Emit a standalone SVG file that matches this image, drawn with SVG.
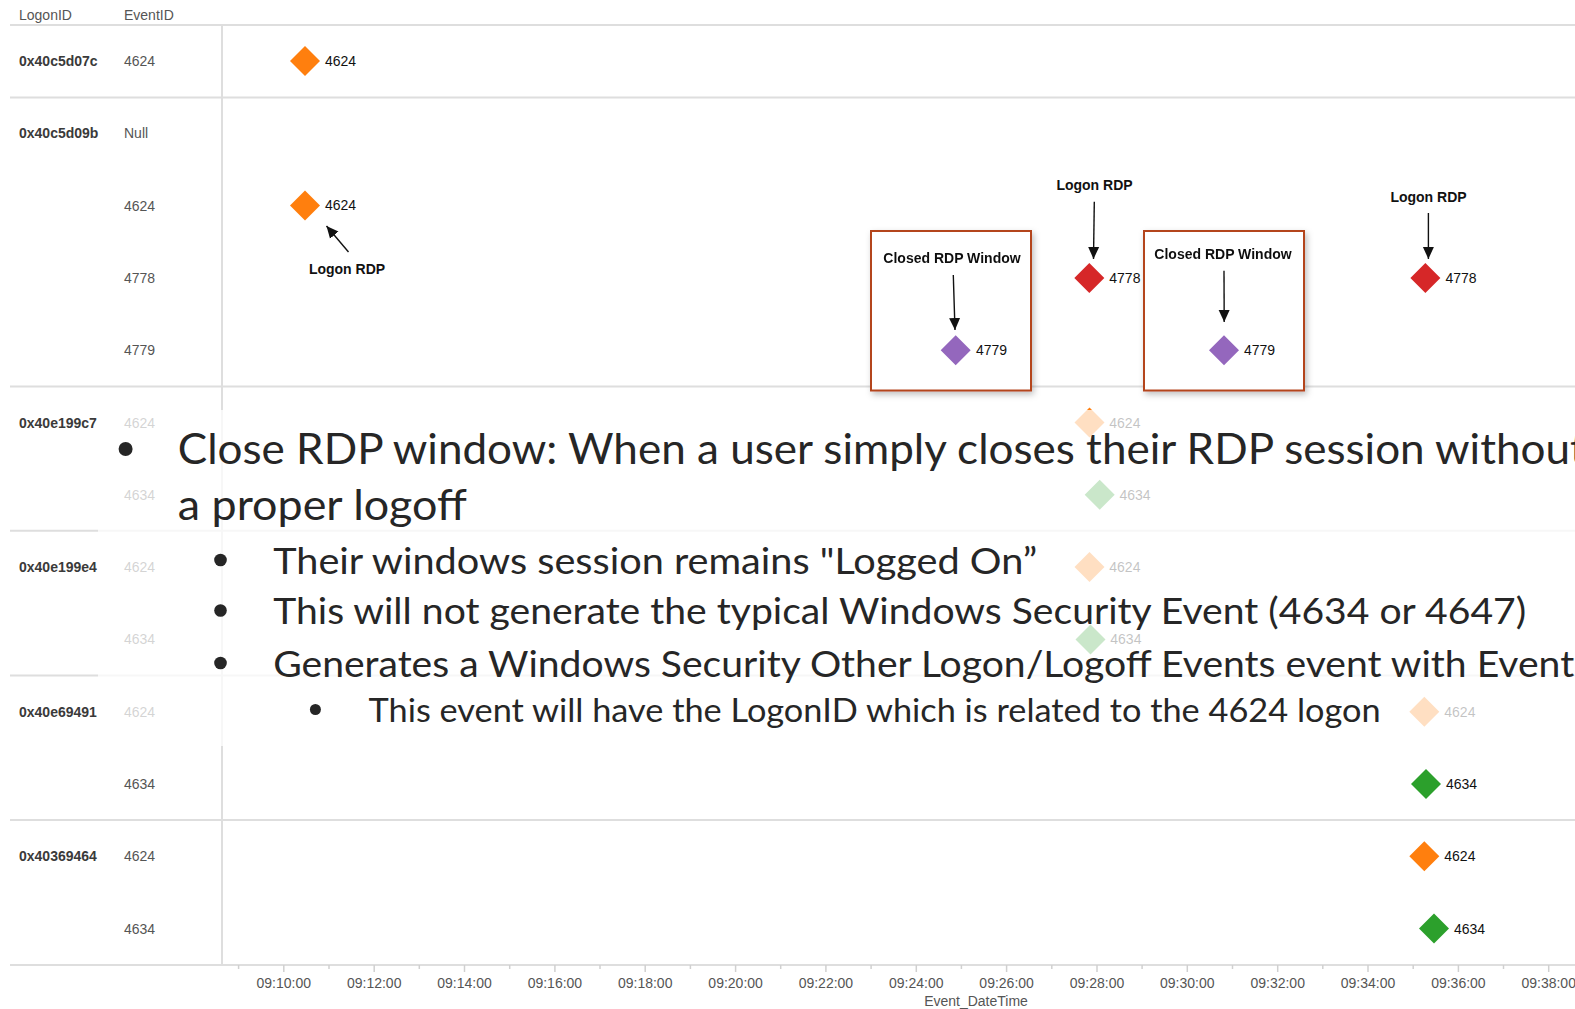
<svg xmlns="http://www.w3.org/2000/svg" xmlns:xlink="http://www.w3.org/1999/xlink" width="1575" height="1009" viewBox="0 0 1575 1009">
<style>
.hdr{font-family:"Liberation Sans",Arial,sans-serif;font-size:14px;fill:#555}
.lid{font-family:"Liberation Sans",Arial,sans-serif;font-size:14px;font-weight:bold;fill:#3a3a3a}
.eid{font-family:"Liberation Sans",Arial,sans-serif;font-size:14px;fill:#555}
.lbl{font-family:"Liberation Sans",Arial,sans-serif;font-size:14px;fill:#111}
.ann{font-family:"Liberation Sans",Arial,sans-serif;font-size:14px;font-weight:bold;fill:#111;text-anchor:middle}
.tick{font-family:"Liberation Sans",Arial,sans-serif;font-size:14px;fill:#555;text-anchor:middle}
.grid{stroke:#dedede;stroke-width:2;fill:none}
.tk{stroke:#d0d0d0;stroke-width:1.5}
.orange{fill:#ff7f0e}.red{fill:#d62728}.purple{fill:#9467bd}.green{fill:#2ca02c}
.box{fill:none;stroke:#b4451f;stroke-width:2}
.arr{stroke:#111;stroke-width:1.4;fill:none;marker-end:url(#ah)}
.slide{font-family:Lato,"Open Sans",sans-serif;fill:#262626}
</style>
<defs>
<path id="dm" d="M0,-15 L15,0 L0,15 L-15,0 Z"/>
<marker id="ah" markerUnits="userSpaceOnUse" markerWidth="12" markerHeight="14" viewBox="0 0 12 14" refX="12" refY="7" orient="auto">
<path d="M0,1.5 L12,7 L0,12.5 Z" fill="#111"/>
</marker>
<filter id="sh" x="-10%" y="-10%" width="125%" height="125%">
<feDropShadow dx="2" dy="3" stdDeviation="3" flood-color="#000" flood-opacity="0.25"/>
</filter>
</defs>
<rect width="1575" height="1009" fill="#fff"/>

<g id="grid">
<line class="grid" x1="10" y1="25" x2="1575" y2="25"/>
<line class="grid" x1="10" y1="97.5" x2="1575" y2="97.5"/>
<line class="grid" x1="10" y1="386.5" x2="1575" y2="386.5"/>
<line class="grid" x1="10" y1="530.8" x2="1575" y2="530.8"/>
<line class="grid" x1="10" y1="675.5" x2="1575" y2="675.5"/>
<line class="grid" x1="10" y1="820" x2="1575" y2="820"/>
<line class="grid" x1="10" y1="965" x2="1575" y2="965"/>
<line class="grid" x1="222" y1="25" x2="222" y2="965"/>
</g>

<g id="header">
<text class="hdr" x="19" y="20">LogonID</text>
<text class="hdr" x="124" y="20">EventID</text>
</g>

<g id="logon-ids">
<text class="lid" x="19" y="66">0x40c5d07c</text>
<text class="lid" x="19" y="138.3">0x40c5d09b</text>
<text class="lid" x="19" y="427.5">0x40e199c7</text>
<text class="lid" x="19" y="572.1">0x40e199e4</text>
<text class="lid" x="19" y="716.7">0x40e69491</text>
<text class="lid" x="19" y="861.3">0x40369464</text>
</g>

<g id="event-ids">
<text class="eid" x="124" y="66">4624</text>
<text class="eid" x="124" y="138.3">Null</text>
<text class="eid" x="124" y="210.6">4624</text>
<text class="eid" x="124" y="282.9">4778</text>
<text class="eid" x="124" y="355.2">4779</text>
<text class="eid" x="124" y="427.5">4624</text>
<text class="eid" x="124" y="499.8">4634</text>
<text class="eid" x="124" y="572.1">4624</text>
<text class="eid" x="124" y="644.4">4634</text>
<text class="eid" x="124" y="716.7">4624</text>
<text class="eid" x="124" y="789">4634</text>
<text class="eid" x="124" y="861.3">4624</text>
<text class="eid" x="124" y="933.6">4634</text>
</g>

<g id="axis">
<g class="tk">
<line x1="283.8" y1="965" x2="283.8" y2="972"/><line x1="374.2" y1="965" x2="374.2" y2="972"/><line x1="464.5" y1="965" x2="464.5" y2="972"/><line x1="554.9" y1="965" x2="554.9" y2="972"/><line x1="645.2" y1="965" x2="645.2" y2="972"/><line x1="735.6" y1="965" x2="735.6" y2="972"/><line x1="825.9" y1="965" x2="825.9" y2="972"/><line x1="916.3" y1="965" x2="916.3" y2="972"/><line x1="1006.6" y1="965" x2="1006.6" y2="972"/><line x1="1097" y1="965" x2="1097" y2="972"/><line x1="1187.3" y1="965" x2="1187.3" y2="972"/><line x1="1277.7" y1="965" x2="1277.7" y2="972"/><line x1="1368" y1="965" x2="1368" y2="972"/><line x1="1458.4" y1="965" x2="1458.4" y2="972"/><line x1="1548.7" y1="965" x2="1548.7" y2="972"/>
<line x1="238.6" y1="965" x2="238.6" y2="969"/><line x1="329" y1="965" x2="329" y2="969"/><line x1="419.3" y1="965" x2="419.3" y2="969"/><line x1="509.7" y1="965" x2="509.7" y2="969"/><line x1="600" y1="965" x2="600" y2="969"/><line x1="690.4" y1="965" x2="690.4" y2="969"/><line x1="780.7" y1="965" x2="780.7" y2="969"/><line x1="871.1" y1="965" x2="871.1" y2="969"/><line x1="961.4" y1="965" x2="961.4" y2="969"/><line x1="1051.8" y1="965" x2="1051.8" y2="969"/><line x1="1142.1" y1="965" x2="1142.1" y2="969"/><line x1="1232.5" y1="965" x2="1232.5" y2="969"/><line x1="1322.8" y1="965" x2="1322.8" y2="969"/><line x1="1413.2" y1="965" x2="1413.2" y2="969"/><line x1="1503.5" y1="965" x2="1503.5" y2="969"/>
</g>
<text class="tick" x="283.8" y="988">09:10:00</text>
<text class="tick" x="374.2" y="988">09:12:00</text>
<text class="tick" x="464.5" y="988">09:14:00</text>
<text class="tick" x="554.9" y="988">09:16:00</text>
<text class="tick" x="645.2" y="988">09:18:00</text>
<text class="tick" x="735.6" y="988">09:20:00</text>
<text class="tick" x="825.9" y="988">09:22:00</text>
<text class="tick" x="916.3" y="988">09:24:00</text>
<text class="tick" x="1006.6" y="988">09:26:00</text>
<text class="tick" x="1097" y="988">09:28:00</text>
<text class="tick" x="1187.3" y="988">09:30:00</text>
<text class="tick" x="1277.7" y="988">09:32:00</text>
<text class="tick" x="1368" y="988">09:34:00</text>
<text class="tick" x="1458.4" y="988">09:36:00</text>
<text class="tick" x="1548.7" y="988">09:38:00</text>
<text class="tick" x="976" y="1006">Event_DateTime</text>
</g>

<g id="box-closed-1" filter="url(#sh)">
<rect class="box" x="871" y="231" width="160" height="159.5" style="fill:#fff"/>
<text class="ann" x="952" y="263">Closed RDP Window</text>
</g>
<g id="box-closed-2" filter="url(#sh)">
<rect class="box" x="1144" y="231" width="160" height="159.5" style="fill:#fff"/>
<text class="ann" x="1223" y="259">Closed RDP Window</text>
</g>

<g id="ev-40c5d07c-4624"><use xlink:href="#dm" class="orange" x="305" y="61"/><text class="lbl" x="325" y="66">4624</text></g>
<g id="ev-40c5d09b-4624"><use xlink:href="#dm" class="orange" x="305" y="205.6"/><text class="lbl" x="325" y="210">4624</text></g>
<g id="ev-40c5d09b-4778a"><use xlink:href="#dm" class="red" x="1089.3" y="277.9"/><text class="lbl" x="1109.3" y="282.9">4778</text></g>
<g id="ev-40c5d09b-4778b"><use xlink:href="#dm" class="red" x="1425.4" y="277.9"/><text class="lbl" x="1445.5" y="282.9">4778</text></g>
<g id="ev-40c5d09b-4779a"><use xlink:href="#dm" class="purple" x="955.7" y="350.2"/><text class="lbl" x="976" y="355.2">4779</text></g>
<g id="ev-40c5d09b-4779b"><use xlink:href="#dm" class="purple" x="1224" y="350.2"/><text class="lbl" x="1244" y="355.2">4779</text></g>
<g id="ev-40e199c7-4624"><use xlink:href="#dm" class="orange" x="1089.5" y="422.5"/><text class="lbl" x="1109.3" y="427.5">4624</text></g>
<g id="ev-40e199c7-4634"><use xlink:href="#dm" class="green" x="1099.7" y="494.8"/><text class="lbl" x="1119.5" y="499.8">4634</text></g>
<g id="ev-40e199e4-4624"><use xlink:href="#dm" class="orange" x="1089.5" y="567.1"/><text class="lbl" x="1109.3" y="572.1">4624</text></g>
<g id="ev-40e199e4-4634"><use xlink:href="#dm" class="green" x="1090.5" y="639.4"/><text class="lbl" x="1110.3" y="644.4">4634</text></g>
<g id="ev-40e69491-4624"><use xlink:href="#dm" class="orange" x="1424.3" y="711.7"/><text class="lbl" x="1444.3" y="716.7">4624</text></g>
<g id="ev-40e69491-4634"><use xlink:href="#dm" class="green" x="1426" y="784"/><text class="lbl" x="1446" y="789">4634</text></g>
<g id="ev-40369464-4624"><use xlink:href="#dm" class="orange" x="1424.3" y="856.3"/><text class="lbl" x="1444.3" y="861.3">4624</text></g>
<g id="ev-40369464-4634"><use xlink:href="#dm" class="green" x="1434" y="928.6"/><text class="lbl" x="1454" y="933.6">4634</text></g>

<g id="ann-logon-1"><text class="ann" x="347" y="274">Logon RDP</text></g>
<g id="ann-logon-2"><text class="ann" x="1094.5" y="190">Logon RDP</text></g>
<g id="ann-logon-3"><text class="ann" x="1428.5" y="202">Logon RDP</text></g>

<g id="connectors">
<line class="arr" x1="348.5" y1="252" x2="326.5" y2="226"/>
<line class="arr" x1="1094.3" y1="201.7" x2="1093.5" y2="259"/>
<line class="arr" x1="1428.4" y1="213" x2="1428.4" y2="259"/>
<line class="arr" x1="953.3" y1="275" x2="955" y2="330"/>
<line class="arr" x1="1224" y1="270.7" x2="1224.2" y2="322"/>
</g>

<rect id="slide-overlay" x="98" y="410" width="1477" height="336" fill="#fff" fill-opacity="0.75"/>

<g id="slide-text" class="slide">
<circle cx="125.6" cy="449" r="7" fill="#262626"/>
<text x="177.8" y="464" font-size="42" textLength="1408" lengthAdjust="spacingAndGlyphs">Close RDP window: When a user simply closes their RDP session without</text>
<text x="177.8" y="520" font-size="42" textLength="289" lengthAdjust="spacingAndGlyphs">a proper logoff</text>
<circle cx="220.5" cy="560" r="6.3" fill="#262626"/>
<text x="273.2" y="574" font-size="36" textLength="764" lengthAdjust="spacingAndGlyphs">Their windows session remains "Logged On”</text>
<circle cx="220.5" cy="610.5" r="6.3" fill="#262626"/>
<text x="273.2" y="624" font-size="36" textLength="1253" lengthAdjust="spacingAndGlyphs">This will not generate the typical Windows Security Event (4634 or 4647)</text>
<circle cx="220.5" cy="663" r="6.3" fill="#262626"/>
<text x="273.2" y="676.5" font-size="36" textLength="1301" lengthAdjust="spacingAndGlyphs">Generates a Windows Security Other Logon/Logoff Events event with Event</text>
<circle cx="315.4" cy="709.5" r="5.5" fill="#262626"/>
<text x="368.6" y="721.5" font-size="32" textLength="1012" lengthAdjust="spacingAndGlyphs">This event will have the LogonID which is related to the 4624 logon</text>
</g>
</svg>
